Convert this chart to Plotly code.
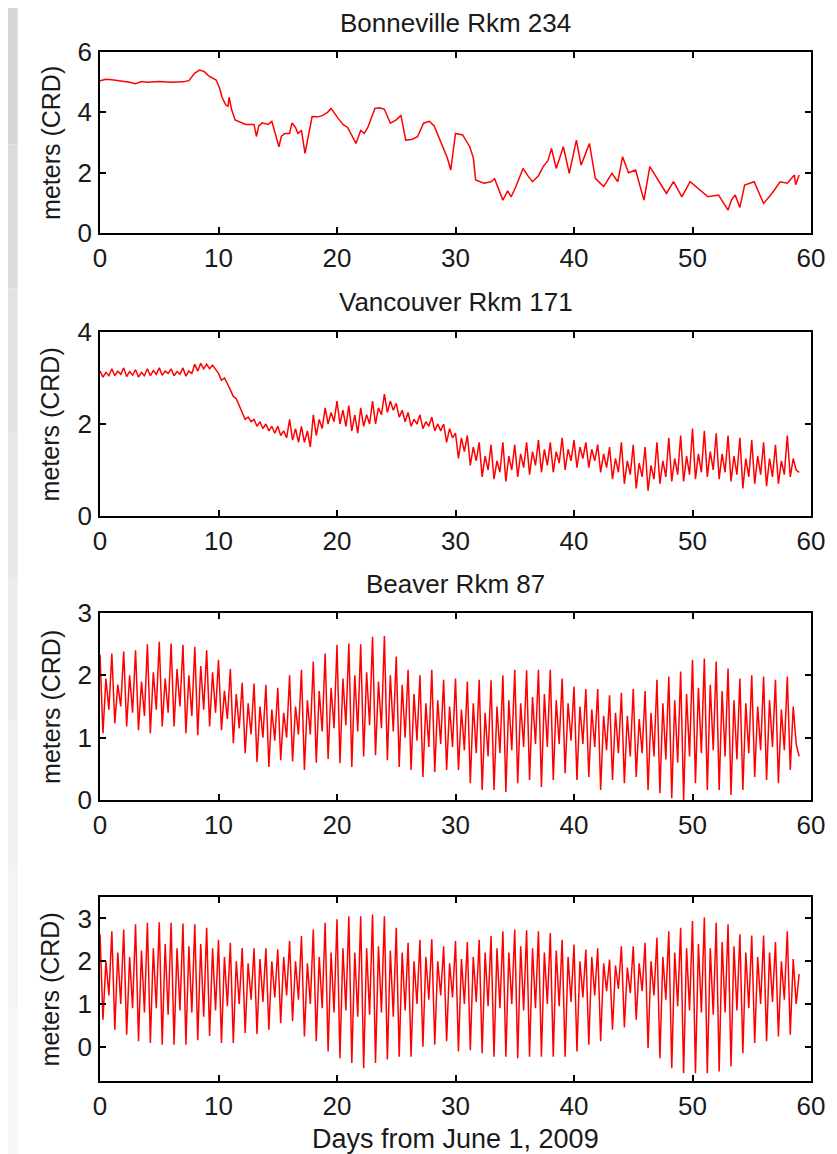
import plotly.graph_objects as go

# ---------------- data ----------------
titles = ["Bonneville Rkm 234", "Vancouver Rkm 171", "Beaver Rkm 87", ""]
x_label = "Days from June 1, 2009"
y_label = "meters (CRD)"
x_ticks = [0, 10, 20, 30, 40, 50, 60]

# Panel 1 - Bonneville (irregular samples, days / meters)
bon_t = [0, 0.5, 1, 1.5, 2, 2.5, 3, 3.5, 4, 5, 6, 7, 7.5, 8, 8.4, 8.8, 9.2, 9.8, 10.1, 10.3,
         10.6, 10.8, 10.9, 11.1, 11.4, 12.0, 12.3, 13.0, 13.2, 13.4, 13.7, 14.2, 14.5, 15.1, 15.3,
         15.6, 16.0, 16.2, 16.5, 16.7, 17.0, 17.3, 17.6, 17.9, 18.4, 18.8, 19.2, 19.5, 20.1, 20.5,
         20.9, 21.3, 21.6, 22.0, 22.3, 22.6, 23.2, 23.6, 24.0, 24.5, 25.0, 25.4, 25.8, 26.3, 26.8,
         27.3, 27.8, 28.2, 28.9, 29.3, 29.6, 30.0, 30.6, 31.2, 31.5, 31.7, 32.4, 33.0, 33.3, 33.7,
         34.0, 34.4, 34.7, 35.1, 35.7, 36.1, 36.5, 37.0, 37.4, 37.8, 38.1, 38.5, 39.1, 39.6, 40.2,
         40.6, 41.3, 41.8, 42.5, 43.2, 43.7, 44.1, 44.6, 45.2, 45.9, 46.4, 47.1, 47.8, 48.4, 49.1,
         49.8, 50.5, 51.3, 52.2, 52.6, 53.0, 53.3, 53.6, 54.0, 54.4, 55.2, 56.0, 56.7, 57.4, 58.0,
         58.6, 58.7, 59.0]
bon_v = [5.05, 5.1, 5.08, 5.05, 5.04, 5.0, 4.95, 5.02, 5.0, 5.02, 5.0, 5.01, 5.05, 5.3, 5.4, 5.35,
         5.2, 5.07, 4.8, 4.5, 4.25, 4.2, 4.5, 4.1, 3.75, 3.65, 3.6, 3.6, 3.2, 3.55, 3.65, 3.6, 3.7,
         2.86, 3.2, 3.3, 3.3, 3.65, 3.5, 3.3, 3.4, 2.64, 3.2, 3.86, 3.85, 3.9, 4.0, 4.13, 3.8, 3.6,
         3.5, 3.2, 2.97, 3.4, 3.3, 3.5, 4.13, 4.15, 4.1, 3.64, 3.75, 3.9, 3.08, 3.1, 3.19, 3.64,
         3.7, 3.55, 2.86, 2.5, 2.09, 3.3, 3.25, 2.86, 2.5, 1.76, 1.65, 1.7, 1.8, 1.4, 1.09, 1.4,
         1.2, 1.54, 2.14, 1.9, 1.7, 1.9, 2.2, 2.4, 2.8, 2.14, 2.86, 1.98, 3.08, 2.25, 2.97, 1.81,
         1.54, 1.98, 1.7, 2.53, 2.0, 2.09, 1.09, 2.2, 1.76, 1.31, 1.7, 1.2, 1.7, 1.48, 1.2, 1.26,
         1.0, 0.76, 1.1, 1.26, 0.85, 1.59, 1.7, 0.98, 1.31, 1.7, 1.65, 1.92, 1.6, 1.92]

# Panels 2-4: per-day tidal extremes, days 0..58
# (higher high, lower low, lower high, higher low), sampled every quarter day
van_hh = [3.15, 3.2, 3.22, 3.18, 3.2, 3.22, 3.2, 3.22, 3.3, 3.3, 3.1, 2.75, 2.25, 2.1, 2.0, 1.95,
          2.1, 1.95, 2.2, 2.35, 2.5, 2.4, 2.35, 2.5, 2.65, 2.45, 2.25, 2.2, 2.15, 2.0, 1.8, 1.75,
          1.6, 1.55, 1.6, 1.55, 1.6, 1.65, 1.6, 1.7, 1.65, 1.6, 1.55, 1.5, 1.6, 1.55, 1.5, 1.6,
          1.7, 1.75, 1.9, 1.85, 1.8, 1.75, 1.7, 1.65, 1.6, 1.55, 1.75]
van_ll = [3.02, 3.05, 3.03, 3.02, 3.05, 3.06, 3.05, 3.04, 3.15, 3.2, 2.95, 2.6, 2.1, 1.95, 1.85,
          1.75, 1.65, 1.6, 1.75, 2.0, 2.0, 1.85, 1.95, 2.0, 2.25, 2.15, 1.95, 1.9, 1.85, 1.6, 1.25,
          1.1, 0.85, 0.8, 0.75, 0.85, 0.9, 0.95, 0.95, 1.0, 1.05, 1.05, 0.95, 0.8, 0.7, 0.6, 0.55,
          0.7, 0.75, 0.75, 0.8, 0.85, 0.8, 0.75, 0.6, 0.7, 0.65, 0.7, 0.85]
van_lh = [3.12, 3.15, 3.14, 3.12, 3.16, 3.15, 3.14, 3.15, 3.32, 3.28, 3.0, 2.55, 2.15, 2.05, 1.95,
          1.85, 1.9, 1.85, 2.1, 2.25, 2.3, 2.2, 2.2, 2.35, 2.5, 2.3, 2.1, 2.05, 2.0, 1.9, 1.7, 1.5,
          1.3, 1.2, 1.3, 1.35, 1.4, 1.45, 1.4, 1.45, 1.5, 1.45, 1.35, 1.25, 1.2, 1.15, 1.1, 1.2,
          1.25, 1.3, 1.35, 1.4, 1.35, 1.3, 1.25, 1.3, 1.25, 1.2, 1.25]
van_hl = [3.05, 3.08, 3.06, 3.05, 3.08, 3.1, 3.08, 3.1, 3.2, 3.18, 2.88, 2.4, 2.05, 1.9, 1.8, 1.7,
          1.6, 1.5, 1.9, 2.05, 1.95, 1.8, 2.0, 2.2, 2.3, 2.05, 2.0, 1.95, 1.85, 1.7, 1.4, 1.2, 1.0,
          0.95, 1.0, 1.05, 1.1, 1.1, 1.15, 1.2, 1.25, 1.2, 1.05, 0.95, 0.9, 0.85, 0.8, 0.85, 0.9,
          0.9, 0.95, 1.0, 0.95, 0.9, 0.85, 0.9, 0.85, 0.9, 1.0]
van_end = 0.95

bea_hh = [2.33, 2.35, 2.38, 2.4, 2.5, 2.54, 2.51, 2.49, 2.46, 2.4, 2.25, 2.1, 1.88, 1.87, 1.85,
          1.8, 2.0, 2.09, 2.22, 2.35, 2.49, 2.51, 2.5, 2.62, 2.63, 2.3, 2.09, 2.0, 2.09, 1.93, 1.95,
          1.9, 1.93, 1.92, 2.0, 2.09, 2.08, 2.09, 2.09, 1.95, 1.82, 1.78, 1.78, 1.68, 1.72, 1.78,
          1.75, 1.93, 1.98, 2.06, 2.25, 2.27, 2.22, 2.11, 1.95, 2.0, 1.98, 1.93, 1.98]
bea_ll = [1.07, 1.23, 1.18, 1.12, 1.07, 1.18, 1.18, 1.07, 1.04, 1.18, 1.12, 0.91, 0.75, 0.61, 0.53,
          0.64, 0.62, 0.48, 0.6, 0.66, 0.59, 0.53, 0.7, 0.72, 0.64, 0.53, 0.48, 0.37, 0.45, 0.48,
          0.48, 0.27, 0.16, 0.16, 0.13, 0.27, 0.32, 0.21, 0.32, 0.43, 0.32, 0.37, 0.16, 0.32, 0.27,
          0.37, 0.16, 0.11, 0.03, 0.0, 0.27, 0.16, 0.16, 0.08, 0.16, 0.37, 0.32, 0.27, 0.48]
bea_lh = [1.95, 1.85, 2.0, 1.9, 2.05, 1.95, 2.1, 2.0, 2.15, 2.05, 1.75, 1.7, 1.55, 1.5, 1.45, 1.4,
          1.5, 1.6, 1.75, 1.8, 1.95, 2.0, 2.05, 1.9, 2.0, 1.85, 1.7, 1.55, 1.6, 1.5, 1.45, 1.55, 1.4,
          1.5, 1.6, 1.55, 1.65, 1.7, 1.6, 1.55, 1.5, 1.45, 1.35, 1.4, 1.35, 1.3, 1.4, 1.55, 1.6,
          1.7, 1.8, 1.85, 1.75, 1.6, 1.55, 1.5, 1.6, 1.45, 1.5]
bea_hl = [1.45, 1.5, 1.4, 1.35, 1.45, 1.4, 1.5, 1.35, 1.45, 1.4, 1.3, 1.15, 1.05, 1.0, 0.95, 1.0,
          1.05, 1.05, 1.1, 1.15, 1.2, 1.1, 1.2, 1.15, 1.1, 1.0, 0.95, 0.85, 0.9, 0.85, 0.8, 0.75,
          0.7, 0.75, 0.8, 0.85, 0.9, 0.85, 0.9, 0.95, 0.9, 0.85, 0.8, 0.75, 0.7, 0.75, 0.7, 0.65,
          0.6, 0.7, 0.75, 0.8, 0.7, 0.65, 0.75, 0.8, 0.85, 0.8, 0.9]
bea_end = 0.7

ast_hh = [2.63, 2.7, 2.74, 2.86, 2.9, 2.91, 2.9, 2.88, 2.86, 2.78, 2.5, 2.43, 2.31, 2.3, 2.3, 2.28,
          2.47, 2.59, 2.74, 2.9, 2.98, 3.05, 3.05, 3.09, 3.05, 2.78, 2.43, 2.5, 2.51, 2.35, 2.47,
          2.45, 2.5, 2.59, 2.7, 2.74, 2.72, 2.7, 2.66, 2.5, 2.39, 2.27, 2.3, 2.04, 2.35, 2.35, 2.43,
          2.55, 2.7, 2.78, 2.94, 3.02, 2.9, 2.86, 2.63, 2.6, 2.6, 2.45, 2.7]
ast_ll = [0.63, 0.4, 0.28, 0.13, 0.09, 0.05, 0.05, 0.05, 0.15, 0.25, 0.09, 0.09, 0.32, 0.3, 0.4,
          0.55, 0.6, 0.24, 0.13, -0.11, -0.27, -0.38, -0.5, -0.38, -0.3, -0.23, -0.23, 0.0, 0.05,
          0.13, -0.11, -0.08, -0.15, -0.23, -0.23, -0.27, -0.23, -0.23, -0.23, -0.23, -0.11, 0.05,
          0.13, 0.4, 0.45, 0.63, -0.03, -0.27, -0.5, -0.62, -0.62, -0.62, -0.58, -0.46, -0.15, 0.09,
          0.13, 0.24, 0.28]
ast_lh = [2.0, 2.2, 2.1, 2.25, 2.3, 2.4, 2.3, 2.35, 2.4, 2.3, 2.1, 2.0, 1.95, 2.05, 2.0, 2.1, 2.0,
          1.95, 2.1, 2.2, 2.3, 2.2, 2.3, 2.35, 2.25, 2.2, 2.0, 2.1, 2.0, 1.95, 2.05, 2.1, 2.2, 2.3,
          2.2, 2.35, 2.3, 2.2, 2.25, 2.1, 2.0, 2.1, 1.95, 1.9, 1.85, 1.95, 2.0, 2.1, 2.2, 2.3, 2.4,
          2.3, 2.45, 2.35, 2.2, 2.1, 2.2, 2.0, 2.05]
ast_hl = [1.2, 1.0, 0.9, 0.8, 0.9, 0.75, 0.85, 0.8, 0.7, 0.85, 0.95, 1.0, 1.1, 1.05, 1.15, 1.2, 1.1,
          1.0, 0.9, 0.8, 0.85, 0.7, 0.75, 0.8, 0.7, 0.85, 1.0, 1.1, 1.2, 1.15, 1.0, 1.05, 0.95, 0.9,
          1.0, 0.85, 0.9, 1.0, 0.95, 1.05, 1.15, 1.2, 1.3, 1.35, 1.25, 1.3, 1.2, 1.1, 0.95, 0.85,
          0.8, 0.75, 0.8, 0.85, 0.9, 1.0, 1.05, 1.1, 1.0]
ast_end = 1.7

y_ranges = [[0, 6], [0, 4], [0, 3], [-0.8, 3.5]]
y_ticks = [[0, 2, 4, 6], [0, 2, 4], [0, 1, 2, 3], [0, 1, 2, 3]]


def tidal(hh, ll, lh, hl, end):
    vals = []
    for a, b, c, d in zip(hh, ll, lh, hl):
        vals += [a, b, c, d]
    vals.append(end)
    t = [i * 0.25 for i in range(len(vals))]
    return t, vals


series = [(bon_t, bon_v),
          tidal(van_hh, van_ll, van_lh, van_hl, van_end),
          tidal(bea_hh, bea_ll, bea_lh, bea_hl, bea_end),
          tidal(ast_hh, ast_ll, ast_lh, ast_hl, ast_end)]

# ---------------- layout ----------------
# the page body has an 8px margin, so the figure is drawn 8px smaller
OFF = 8
PAGE_W, PAGE_H = 837, 1154
W, H = PAGE_W - OFF, PAGE_H - OFF
AX_L, AX_R, AX_T, AX_B = 100, 817, 52, 1081          # axes box in page pixels
ML, MR, MT, MB = AX_L - OFF, PAGE_W - AX_R, AX_T - OFF, PAGE_H - AX_B
PW, PH = AX_R - AX_L, AX_B - AX_T
panel_px = [(52, 233), (332, 516), (613, 800), (897, 1081)]  # top, bottom page rows
title_px = [23, 302, 584]


def py(ypx):
    return (AX_B - ypx) / PH


def px(xpx):
    return (xpx - AX_L) / PW


FONT = "Liberation Sans, Arial, sans-serif"
TXT = "#1a1a1a"
fig = go.Figure()
layout = dict(
    width=W, height=H,
    margin=dict(l=ML, r=MR, t=MT, b=MB),
    paper_bgcolor="white", plot_bgcolor="white",
    showlegend=False,
    font=dict(family=FONT, size=25, color=TXT),
)
annotations = []
for i, ((t, v), (top, bot)) in enumerate(zip(series, panel_px)):
    n = "" if i == 0 else str(i + 1)
    fig.add_trace(go.Scatter(x=t, y=v, mode="lines", xaxis="x" + n, yaxis="y" + n,
                             line=dict(color="#ff0000", width=1.5)))
    common = dict(showline=True, linecolor="#000", linewidth=1.5, mirror="allticks",
                  ticks="inside", ticklen=6, tickcolor="#000", tickwidth=1.5,
                  showgrid=False, zeroline=False,
                  tickfont=dict(size=26, family=FONT, color=TXT))
    layout["xaxis" + n] = dict(domain=[0, 1], anchor="y" + n, range=[0, 60],
                               tickvals=x_ticks, ticklabelstandoff=1, **common)
    layout["yaxis" + n] = dict(domain=[py(bot), py(top)], anchor="x" + n,
                               range=y_ranges[i], tickvals=y_ticks[i], ticklabelstandoff=1,
                               **common)
    annotations.append(dict(text=y_label, xref="paper", yref="paper", x=px(50),
                            y=(py(bot) + py(top)) / 2, textangle=-90, showarrow=False,
                            font=dict(size=25, family=FONT, color=TXT),
                            xanchor="center", yanchor="middle"))
    if titles[i]:
        annotations.append(dict(text=titles[i], xref="paper", yref="paper", x=0.5,
                                y=py(title_px[i]), showarrow=False,
                                font=dict(size=26, family=FONT, color=TXT),
                                xanchor="center", yanchor="middle"))
annotations.append(dict(text=x_label, xref="paper", yref="paper", x=0.5, y=py(1139),
                        showarrow=False, font=dict(size=27, family=FONT, color=TXT),
                        xanchor="center", yanchor="middle"))
layout["annotations"] = annotations

# light gray slide edge on the left (page x 0..17, only 8..17 reachable)
shapes = []
grays = ["#d6d6d6", "#dcdcdc", "#e2e2e2", "#e7e7e7", "#ececec", "#f0f0f0", "#f4f4f4", "#f7f7f7"]
seg = PAGE_H / len(grays)
for k, g in enumerate(grays):
    shapes.append(dict(type="rect", xref="paper", yref="paper", x0=px(0), x1=px(17),
                       y0=py(seg * (k + 1)), y1=py(seg * k), fillcolor=g, line=dict(width=0),
                       layer="below"))
layout["shapes"] = shapes

fig.update_layout(**layout)
fig.write_html("out.html")
